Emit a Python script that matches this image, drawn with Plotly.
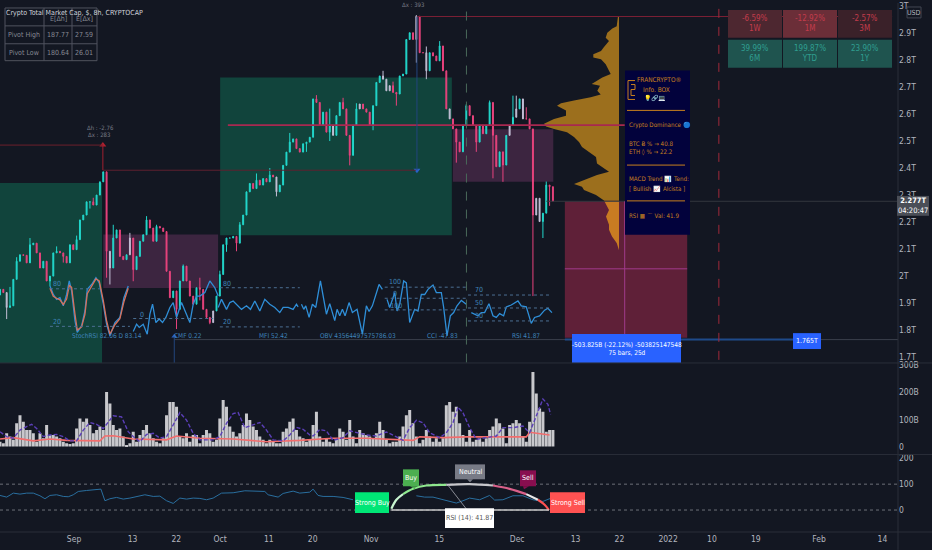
import pandas as pd
import plotly.graph_objects as go
from plotly.subplots import make_subplots

# chart geometry of the window
PLOT_W = 898
PLOT_H = 532
PANE_MAIN = 362
PANE_VOL = 92
PANE_RSI = 78

BG = "#131722"
FONT = "Liberation Sans Narrow, DejaVu Sans Condensed, sans-serif"
AXIS_TEXT = "#b2b5be"
UP = "#22d8cc"
DOWN = "#e8437d"
PALE = "#c4bfd6"
OSC = "#2f8fd8"
ORANGE = "#c8801e"

# 16.4h bars, closes in trillions
CLOSE = [1.951, 1.939, 1.884, 1.890, 1.988, 2.055, 2.079, 2.077, 2.049, 2.116, 2.122, 2.086, 2.030, 2.055, 1.982, 2.000,
         2.086, 2.092, 2.086, 2.073, 2.049, 2.116, 2.098, 2.135, 2.208, 2.226, 2.275, 2.275, 2.263, 2.300, 2.349, 2.386,
         2.092, 2.030, 2.141, 2.171, 2.073, 2.061, 2.079, 2.141, 2.024, 2.073, 2.129, 2.153, 2.208, 2.178, 2.129, 2.184,
         2.178, 2.165, 2.018, 1.920, 1.945, 1.877, 1.982, 2.037, 1.982, 1.926, 1.896, 1.957, 1.951, 1.877, 1.847, 1.828,
         1.871, 1.926, 2.006, 2.116, 2.141, 2.141, 2.147, 2.122, 2.190, 2.226, 2.312, 2.343, 2.324, 2.355, 2.337, 2.361,
         2.349, 2.374, 2.367, 2.312, 2.337, 2.410, 2.459, 2.496, 2.508, 2.472, 2.459, 2.490, 2.496, 2.514,
         2.656, 2.643, 2.558, 2.607, 2.533, 2.558, 2.521, 2.594, 2.643, 2.619, 2.521, 2.447, 2.558, 2.619, 2.637, 2.619,
         2.607, 2.558, 2.631, 2.717, 2.741, 2.729, 2.686, 2.705, 2.680, 2.674, 2.741, 2.748, 2.876, 2.901, 2.876, 2.962,
         2.827, 2.827, 2.760, 2.827, 2.815, 2.797, 2.852, 2.760, 2.619, 2.582, 2.545, 2.496, 2.460, 2.558, 2.631, 2.594,
         2.558, 2.496, 2.558, 2.527, 2.558, 2.643, 2.521, 2.405, 2.460, 2.411, 2.521, 2.558, 2.588, 2.619, 2.656, 2.582,
         2.582, 2.545, 2.226, 2.288, 2.202, 2.233, 2.337, 2.331, 2.277]
HIGH_WICK = {3: 1.96, 5: 2.07, 9: 2.141, 14: 2.04, 17: 2.11, 23: 2.15, 28: 2.29, 34: 2.19, 39: 2.16, 44: 2.222, 47: 2.19, 55: 2.043,
             60: 1.994, 66: 2.02, 72: 2.2, 77: 2.38, 81: 2.4, 87: 2.53, 95: 2.67, 99: 2.62, 103: 2.66, 107: 2.64, 115: 2.76,
             118: 2.72, 125: 2.966, 128: 2.85, 132: 2.87, 140: 2.637, 147: 2.65, 154: 2.668, 155: 2.668, 158: 2.625, 164: 2.35}
LOW_WICK = {2: 1.841, 9: 2.08, 15: 1.963, 19: 2.05, 27: 2.25, 32: 1.994, 33: 1.969, 40: 1.981, 53: 1.804, 60: 1.91, 63: 1.822,
            68: 2.09, 71: 2.092, 83: 2.295, 92: 2.46, 99: 2.5, 105: 2.41, 112: 2.54, 119: 2.631, 125: 2.79, 128: 2.729, 137: 2.42,
            143: 2.46, 148: 2.362, 151: 2.349, 160: 1.926, 163: 2.141, 165: 2.26}
PALE_BARS = [2, 33, 39, 64, 83, 100, 108, 115, 116, 117, 125, 128, 135, 153, 155, 157, 161, 162]

VOLUME = [18, 12, 49, 37, 25, 86, 116, 92, 61, 61, 49, 18, 49, 31, 80, 43, 43, 37, 31, 18, 12, 10, 12, 67, 104, 92, 104, 80, 49,
          61, 74, 61, 202, 159, 80, 61, 67, 37, 6, 12, 55, 18, 43, 61, 80, 49, 31, 18, 12, 31, 116, 165, 165, 147, 37, 31, 49,
          18, 43, 43, 12, 43, 61, 49, 18, 25, 104, 172, 147, 74, 55, 37, 49, 80, 122, 98, 74, 61, 37, 25, 12, 25, 18, 12, 12,
          55, 67, 92, 104, 61, 37, 31, 18, 25,
          80, 129, 37, 18, 31, 18, 12, 31, 67, 55, 25, 98, 37, 12, 61, 49, 43, 37, 31, 49, 92, 61, 25, 12, 18, 18, 37, 74,
          116, 135, 86, 37, 12, 25, 61, 37, 18, 31, 18, 31, 153, 165, 129, 147, 86, 43, 18, 61, 18, 25, 31, 18, 31, 61, 74,
          104, 86, 67, 12, 80, 86, 98, 86, 37, 18, 92, 276, 196, 141, 129, 55, 61, 61]

VOL_SMA_BARS = [0, 2, 4, 6, 8, 9.5, 11, 13, 15, 17, 19, 21, 23, 25, 27, 29, 31, 33, 34, 36.5, 38.5, 40, 42, 44, 46, 48, 50, 52,
                54, 56, 58, 60, 64, 66, 68, 70, 71.5, 73.5, 76, 78, 80, 82, 85, 87, 89, 91, 93,
                94, 96, 98, 100, 103, 105, 107, 110, 113, 116, 119, 121, 123, 125, 127, 129, 132, 134, 136, 137.5, 139, 141,
                143, 146, 149, 151, 154, 157, 159, 161, 163, 164.5, 165.3]
VOL_SMA = [55, 37, 31, 61, 74, 82, 67, 37, 43, 45, 37, 21, 21, 61, 89, 82, 67, 98, 114, 110, 55, 37, 18, 45, 49, 31, 37, 80,
           126, 98, 49, 25, 25, 37, 86, 122, 126, 70, 82, 89, 61, 25, 21, 43, 71, 64, 43,
           39, 63, 58, 23, 33, 58, 51, 43, 39, 54, 36, 23, 70, 97, 88, 51, 33, 51, 88, 146, 125, 70,
           27, 33, 39, 70, 70, 76, 51, 113, 176, 156, 119]
VOL_LONG_BARS = [0, 4, 10, 15, 20, 30, 31.5, 34, 40, 50, 53, 60, 70, 80, 90, 100, 110, 124, 126, 133, 140, 150, 158, 159, 165]
VOL_LONG = [28, 33, 21, 28, 23, 21, 39, 40, 28, 25, 39, 31, 28, 18, 23, 31, 31, 23, 36, 33, 36, 37, 36, 53, 43]

RSI_BARS = [0, 2, 4, 6, 8, 10, 12, 13.5, 15, 17, 19, 20.5, 22, 23.5, 26, 28, 30.3, 31.5, 33, 35, 37, 39, 41, 43.5, 46, 48, 50,
            52, 54, 56, 58, 60, 62, 64, 66.5, 70, 73.5, 77, 79.5, 80.5, 83.5, 85, 88, 90, 93, 94, 95.5, 97, 100, 103, 106,
            115, 125, 127.5, 130, 133, 137, 139, 141, 144, 147, 148.5, 151, 154, 157, 160, 163, 165.5]
RSI_VALUES = [56.4, 50, 65.4, 61.5, 65.4, 65.4, 55.1, 43.6, 56.4, 59, 52.6, 51.3, 59, 71.8, 75.6, 78.2, 80.8, 35.9, 43.6, 48.7,
              42.3, 46.2, 51.3, 59, 52.6, 53.8, 35.9, 25.6, 46.2, 42.3, 46.2, 44.9, 39.7, 46.2, 65.4, 66.7, 74.4, 74.4, 71.8,
              59, 50, 64.1, 73.1, 65.4, 69.2, 80.8, 56.4, 52.6, 52.6, 48.7, 39.7,
              None, 55.1, 50, 50, 39.7, 26.9, 35.9, 46.2, 39.7, 56.4, 38.5, 39.7, 55.1, 55.1, 39.7, 33.3, 46.2]

# rsi gauge arc, in bars and rsi levels
GAUGE_BARS = [117.5, 119, 121, 124, 128, 134, 141, 148, 153, 158, 161.5, 163.5, 164.8]
GAUGE_LEVELS = [5, 39.7, 61.5, 82, 94.9, 97.4, 100, 94.9, 82, 61.5, 39.7, 20.5, 0]

# oscillators printed on the price pane
STOCH_BARS = [15, 16, 17, 18, 19, 20, 20.8, 21.5, 22.5, 23.2, 24.5, 25.5, 26.2, 27.5, 28.8, 29.8, 31, 32, 33, 34.5, 36, 37.2, 38.5]
STOCH_K = [1.963, 1.932, 1.914, 1.920, 1.890, 1.932, 1.982, 1.945, 1.835, 1.792, 1.816, 1.871, 1.951, 1.969, 1.994, 1.975, 1.896,
           1.822, 1.779, 1.828, 1.847, 1.920, 1.963]
STOCH_D = [1.955, 1.925, 1.918, 1.912, 1.895, 1.915, 1.965, 1.958, 1.860, 1.800, 1.812, 1.858, 1.935, 1.962, 1.990, 1.982, 1.910,
           1.835, 1.785, 1.820, 1.842, 1.905, 1.955]
CMF_BARS = [40, 41, 41.8, 43, 44.2, 45, 45.8, 46.8, 47.8, 48.8, 49.8, 51, 52, 53, 54.5, 56, 57, 58, 59, 60, 61.5, 63, 64.5, 65.5]
CMF = [1.795, 1.822, 1.810, 1.822, 1.785, 1.859, 1.896, 1.828, 1.841, 1.828, 1.847, 1.884, 1.902, 1.847, 1.902, 1.859, 1.828,
       1.896, 1.926, 1.926, 1.939, 1.982, 1.957, 1.926]
MFI_BARS = [65.5, 66.5, 68, 69, 70, 71.5, 72.5, 74, 75.2, 76.5, 78, 79.5, 81, 82.5, 84, 85, 86.5, 88, 89, 89.5]
MFI = [1.884, 1.914, 1.877, 1.902, 1.908, 1.890, 1.877, 1.890, 1.877, 1.908, 1.871, 1.914, 1.896, 1.884, 1.865, 1.884, 1.884,
       1.877, 1.896, 1.886]
OBV_BARS = [90.5, 91.2, 91.8, 92.8, 93.8, 94.8, 96.2, 98, 99, 100.5, 101.2, 102, 102.8, 103.6, 104.8, 105.8, 107.2, 108.8, 110,
            110.8, 111.8, 112.8, 113.8, 114.8]
OBV = [1.896, 1.877, 1.890, 1.847, 1.896, 1.884, 1.982, 1.859, 1.898, 1.835, 1.877, 1.853, 1.877, 1.853, 1.902, 1.865, 1.877,
       1.785, 1.890, 1.869, 1.890, 1.926, 1.969, 1.951]
CCI_BARS = [116.2, 117, 118, 118.5, 119.2, 120, 121.2, 122, 123, 124.5, 125.5, 126.5, 127.5, 128.5, 130, 131, 132.5, 133.2, 134.2,
            135.2, 136.2, 137.2, 138.5, 140]
CCI = [1.914, 1.884, 1.920, 1.939, 1.871, 1.896, 1.982, 1.975, 1.828, 1.877, 1.871, 1.932, 1.932, 1.951, 1.967, 1.939, 1.939,
       1.884, 1.779, 1.853, 1.865, 1.890, 1.910, 1.896]
RSI_OVER_BARS = [141.5, 142.5, 143.5, 144.5, 145.5, 146.8, 148, 149, 150, 151.2, 152, 153.5, 155.5, 156.5, 158, 159.5, 160.5, 162,
                 163.5, 164.5, 165.7]
RSI_OVER = [1.865, 1.859, 1.853, 1.865, 1.865, 1.898, 1.853, 1.847, 1.861, 1.853, 1.886, 1.893, 1.908, 1.890, 1.886, 1.825, 1.847,
            1.853, 1.874, 1.881, 1.865]

# (first bar, last bar, price, label, label bar, label price)
OSC_LEVELS = [(15, 30, 1.953, "80", 17, 1.969), (15, 39, 1.814, "20", 17, 1.830), (40, 64, 1.843, "0", 42.5, 1.855),
              (66, 90, 1.957, "80", 68, 1.972), (66, 90, 1.812, "20", 68, 1.830), (115.5, 140, 1.959, "100", 118.5, 1.978),
              (115.5, 140, 1.918, "0", 118.5, 1.932), (115.5, 140, 1.875, "-100", 118.5, 1.890),
              (140.5, 165.7, 1.930, "70", 143.8, 1.947), (140.5, 165.7, 1.882, "50", 143.8, 1.899),
              (140.5, 165.7, 1.834, "30", 143.8, 1.853)]
OSC_NAMES = [("StochRSI 82.06 D 83.14", 32), ("CMF 0.22", 56.5), ("MFI 52.42", 82), ("OBV 43564497575786.03", 107.5),
             ("CCI -47.83", 132.7), ("RSI 41.87", 158)]

# (start, end, top, bottom, colour)
ZONES = [("2021-08-16 19:00", "2021-09-06 18:00", 2.345, 1.60, "#11443c"),
         ("2021-10-01 00:00", "2021-11-17 14:00", 2.735, 2.151, "#11443c"),
         ("2021-09-07 00:00", "2021-09-30 14:00", 2.154, 1.956, "#3c2540"),
         ("2021-11-17 19:00", "2021-12-08 10:00", 2.544, 2.349, "#3c2540"),
         ("2021-12-10 19:00", "2022-01-04 22:00", 2.277, 1.772, "#5f2038")]
# (start, end, price, colour, width)
LEVEL_LINES = [("2021-11-10 10:00", "2022-02-16 00:00", 2.961, "#7a1f34", 1),
               ("2021-10-02 14:00", "2021-12-23 02:00", 2.559, "#a82850", 1.6),
               ("2021-08-16 19:00", "2021-09-06 22:00", 2.485, "#6b1f2c", 1),
               ("2021-09-07 00:00", "2021-11-10 05:00", 2.392, "#5f2030", 1),
               ("2021-09-21 14:00", "2022-02-18 04:00", 1.765, "#3a3f4b", 1),
               ("2021-12-10 19:00", "2022-01-28 00:00", 1.765, "#1e4a8a", 2),
               ("2021-12-07 00:00", "2022-02-18 04:00", 2.277, "#33373f", 1),
               ("2021-12-10 19:00", "2022-01-04 22:00", 2.027, "#a03a8c", 1)]

# volume profile right of the candles, above and below the last close
PROFILE_TOP_PRICE = [2.962, 2.925, 2.917, 2.901, 2.882, 2.870, 2.848, 2.833, 2.821, 2.809, 2.803, 2.784, 2.760, 2.748, 2.735, 2.721,
                     2.711, 2.705, 2.686, 2.672, 2.662, 2.650, 2.640, 2.631, 2.613, 2.594, 2.582, 2.564, 2.554, 2.545, 2.533,
                     2.515, 2.496, 2.478, 2.460, 2.441, 2.417, 2.398, 2.386, 2.374, 2.355, 2.341, 2.331, 2.319, 2.300, 2.280]
PROFILE_TOP = [1, 2.3, 6.7, 11.7, 13.3, 10, 15, 18, 25.7, 25.7, 18, 13.3, 10, 8.3, 16.7, 23.3, 27.3, 19, 21.7, 18.3, 28.3, 45, 58, 62,
               53, 53, 65, 75, 73, 65, 52, 45, 40, 37, 30, 23, 22, 15, 10, 22, 35, 45, 37, 35, 23, 15]
PROFILE_LOW_PRICE = [2.280, 2.267, 2.245, 2.221, 2.190, 2.172, 2.147, 2.123, 2.096]
PROFILE_LOW = [15, 13, 10, 13, 10, 10, 7, 2.3, 0]

MAIN_TICKS = [1.7, 1.8, 1.9, 2.0, 2.1, 2.2, 2.3, 2.4, 2.5, 2.6, 2.7, 2.8, 2.9, 3.0]
MAIN_LABELS = ["1.7T", "1.8T", "1.9T", "2T", "2.1T", "2.2T", "2.3T", "2.4T", "2.5T", "2.6T", "2.7T", "2.8T", "2.9T", "3T"]
VOL_TICKS = [0, 100, 200, 300]
VOL_LABELS = ["0", "100B", "200B", "300B"]
RSI_TICKS = [0, 100, 200]
DATE_TICKS = ["2021-09-01", "2021-09-13", "2021-09-22", "2021-10-01", "2021-10-11", "2021-10-20", "2021-11-01", "2021-11-15",
              "2021-12-01", "2021-12-13", "2021-12-22", "2022-01-01", "2022-01-10", "2022-01-19", "2022-02-01", "2022-02-14"]
DATE_LABELS = ["Sep", "13", "22", "Oct", "11", "20", "Nov", "15", "Dec", "13", "22", "2022", "10", "19", "Feb", "14"]

PERF_VALUES = ["-6.59%", "-12.92%", "-2.57%", "39.99%", "199.87%", "23.90%"]
PERF_PERIODS = ["1W", "1M", "3M", "6M", "YTD", "1Y"]
PERF_FILLS = ["#4d2730", "#6b2e38", "#3a2129", "#1f544f", "#1f544f", "#1f544f"]

PIVOT_HEAD = ["", "E[Δh]", "E[Δx]"]
PIVOT_HIGH = ["Pivot High", "187.77", "27.59"]
PIVOT_LOW = ["Pivot Low", "180.64", "26.01"]

X_START = "2021-08-16 19:00"
X_END = "2022-02-17 05:00"
T0 = pd.Timestamp(X_START)
STEP = pd.Timedelta(minutes=985)


def bar_date(i):
    return T0 + i * STEP


def px(x):
    return x / PLOT_W


def py(y):
    return 1 - y / PLOT_H


def note(fig, x, y, text, color=AXIS_TEXT, size=10, anchor="center"):
    fig.add_annotation(x=px(x), y=py(y), xref="paper", yref="paper", text=text, showarrow=False, xanchor=anchor,
                       yanchor="middle", font=dict(color=color, size=size, family=FONT))


def tag(fig, x0, y0, x1, y1, text, fill, color="white", size=10, tail=None):
    fig.add_shape(type="rect", xref="paper", yref="paper", x0=px(x0), x1=px(x1), y0=py(y0), y1=py(y1), fillcolor=fill,
                  line_width=0, layer="above")
    if tail:
        mid = (x0 + x1) / 2 + tail[0]
        corners = [(mid - 3, y1), (mid + 3, y1), (mid + tail[0], y1 + tail[1])]
        path = "M " + " L ".join(f"{px(a)} {py(b)}" for a, b in corners) + " Z"
        fig.add_shape(type="path", xref="paper", yref="paper", path=path, fillcolor=fill, line_width=0, layer="above")
    note(fig, (x0 + x1) / 2, (y0 + y1) / 2, text, color, size)


def paper_line(fig, x0, y0, x1, y1, color, width=1):
    fig.add_shape(type="line", xref="paper", yref="paper", x0=px(x0), x1=px(x1), y0=py(y0), y1=py(y1),
                  line=dict(color=color, width=width), layer="above")


def main():
    dates = [bar_date(i) for i in range(len(CLOSE))]
    opens = [1.930] + CLOSE[:-1]
    highs = [HIGH_WICK.get(i, max(opens[i], CLOSE[i])) for i in range(len(CLOSE))]
    lows = [LOW_WICK.get(i, min(opens[i], CLOSE[i])) for i in range(len(CLOSE))]

    fig = make_subplots(rows=3, cols=1, shared_xaxes=True, vertical_spacing=0,
                        row_heights=[PANE_MAIN, PANE_VOL, PANE_RSI])

    plain = [i for i in range(len(CLOSE)) if i not in PALE_BARS]
    for bars, up, down in ((plain, UP, DOWN), (PALE_BARS, PALE, PALE)):
        fig.add_trace(go.Candlestick(
            x=[dates[i] for i in bars], open=[opens[i] for i in bars], high=[highs[i] for i in bars],
            low=[lows[i] for i in bars], close=[CLOSE[i] for i in bars], whiskerwidth=0,
            increasing=dict(line=dict(color=up, width=1), fillcolor=up),
            decreasing=dict(line=dict(color=down, width=1), fillcolor=down)), row=1, col=1)

    for bars, vals, color in ((STOCH_BARS, STOCH_K, OSC), (STOCH_BARS, STOCH_D, "#d8705a"), (CMF_BARS, CMF, OSC),
                              (MFI_BARS, MFI, OSC), (OBV_BARS, OBV, OSC), (CCI_BARS, CCI, OSC),
                              (RSI_OVER_BARS, RSI_OVER, OSC)):
        fig.add_trace(go.Scatter(x=[bar_date(b) for b in bars], y=vals, mode="lines",
                                 line=dict(color=color, width=1.3)), row=1, col=1)

    # arrow heads of the pivot drawings
    fig.add_trace(go.Scatter(x=["2021-09-06 22:00"], y=[2.485], mode="markers",
                             marker=dict(symbol="triangle-up", size=6, color="#b0202f")), row=1, col=1)
    fig.add_trace(go.Scatter(x=["2021-11-10 10:00"], y=[2.392], mode="markers",
                             marker=dict(symbol="triangle-down", size=6, color="#2a62c8")), row=1, col=1)
    fig.add_trace(go.Scatter(x=["2021-09-21 14:00"], y=[1.777], mode="markers",
                             marker=dict(symbol="triangle-up", size=5, color="#2a62c8")), row=1, col=1)

    fig.add_trace(go.Bar(x=dates, y=VOLUME, marker=dict(color="#c8c8cc", line_width=0)), row=2, col=1)
    fig.add_trace(go.Scatter(x=[bar_date(b) for b in VOL_LONG_BARS], y=VOL_LONG, mode="lines",
                             line=dict(color="#f26d6d", width=1.6)), row=2, col=1)
    fig.add_trace(go.Scatter(x=[bar_date(b) for b in VOL_SMA_BARS], y=VOL_SMA, mode="lines",
                             line=dict(color="#5b3fb8", width=1.4, dash="4px,2px")), row=2, col=1)

    fig.add_trace(go.Scatter(x=[bar_date(b) for b in RSI_BARS], y=RSI_VALUES, mode="lines",
                             line=dict(color="#2a6f9f", width=1)), row=3, col=1)
    # gauge arc, split by zone colour
    for first, last, color in ((0, 3, "#c8f5d0"), (2, 6, "#8fe88f"), (5, 8, "#c8c8cc"), (7, 10, "#d9608a"),
                               (9, 11, "#e8e8e8"), (10, 13, "#ff5252")):
        fig.add_trace(go.Scatter(x=[bar_date(b) for b in GAUGE_BARS[first:last]], y=GAUGE_LEVELS[first:last], mode="lines",
                                 line=dict(color=color, width=2.2, shape="spline")), row=3, col=1)
    fig.add_trace(go.Scatter(x=[bar_date(GAUGE_BARS[0]), bar_date(GAUGE_BARS[-1])], y=[0, 0], mode="lines",
                             line=dict(color="#c8c8c8", width=1.6)), row=3, col=1)

    # volume profile has its own axis, growing to the left
    for vals, prices, color in ((PROFILE_TOP, PROFILE_TOP_PRICE, "#9c6f1d"), (PROFILE_LOW, PROFILE_LOW_PRICE, "#c97b22")):
        fig.add_trace(go.Scatter(x=vals, y=prices, mode="lines", fill="tozerox", xaxis="x4", yaxis="y",
                                 line=dict(color=color, width=0), fillcolor=color))

    for start, end, top, bottom, color in ZONES:
        fig.add_shape(type="rect", xref="x", yref="y", x0=start, x1=end, y0=bottom, y1=top, fillcolor=color,
                      line_width=0, layer="below")
    for start, end, price, color, width in LEVEL_LINES:
        fig.add_shape(type="line", xref="x", yref="y", x0=start, x1=end, y0=price, y1=price,
                      line=dict(color=color, width=width), layer="above")

    # vertical drawings
    for when, low, high, color, dash in (("2021-11-20 14:00", 1.68, 3.1, "#4a6a5a", "dash"),
                                         ("2022-01-11 10:00", 1.69, 3.1, "#a02a3a", "dash"),
                                         ("2021-09-06 22:00", 2.392, 2.485, "#a02030", "solid"),
                                         ("2021-11-10 10:00", 2.392, 2.961, "#23457e", "solid"),
                                         ("2021-09-21 14:00", 1.65, 1.777, "#23457e", "solid"),
                                         ("2021-12-23 02:00", 1.772, 2.277, "#a03a8c", "solid")):
        fig.add_shape(type="line", xref="x", yref="y", x0=when, x1=when, y0=low, y1=high,
                      line=dict(color=color, width=1, dash=dash))

    for first, last, price, label, label_bar, label_price in OSC_LEVELS:
        fig.add_shape(type="line", xref="x", yref="y", x0=bar_date(first), x1=bar_date(last), y0=price, y1=price,
                      line=dict(color="#4c6f93", width=1, dash="3px,3px"))
        fig.add_annotation(x=bar_date(label_bar), y=label_price, xref="x", yref="y", text=label, showarrow=False,
                           font=dict(color="#3f83b8", size=7, family=FONT))
    for name, bar in OSC_NAMES:
        fig.add_annotation(x=bar_date(bar), y=1.779, xref="x", yref="y", text=name, showarrow=False,
                           font=dict(color="#3f83b8", size=6.5, family=FONT))

    for level in (0, 100):
        fig.add_shape(type="line", xref="x3", yref="y3", x0=X_START, x1=X_END, y0=level, y1=level,
                      line=dict(color="#6d7079", width=1, dash="3px,3px"), layer="below")

    # gauge labels
    paper_line(fig, 448, 485, 468, 511, "#8a8d96")
    tag(fig, 355, 492, 389, 513, "Strong Buy", "#00e676", size=7)
    tag(fig, 403, 469, 419, 486, "Buy", "#4caf50", size=7, tail=(2, 3))
    tag(fig, 455, 464, 485, 479, "Neutral", "#787b86", size=7, tail=(0, 3))
    tag(fig, 520, 470, 536, 486, "Sell", "#880e4f", size=7, tail=(-2, 3))
    tag(fig, 550, 492, 585, 513, "Strong Sell", "#ff5252", size=7)
    tag(fig, 445, 508, 494, 528, "RSI (14): 41.87", "#ffffff", color="#555555", size=7)

    # drawing labels
    tag(fig, 572, 333, 681, 362, "-503.825B (-22.12%) -503825147548<br>75 bars, 25d", "#2962ff", size=6.5)
    tag(fig, 793, 332, 821, 348, "1.765T", "#2962ff", size=7)
    note(fig, 100, 125, "Δh : -2.76", "#787b86", 6)
    note(fig, 99, 132, "Δx : 283", "#787b86", 6)
    note(fig, 413, 2, "Δx : 393", "#787b86", 6)

    # info box
    fig.add_shape(type="rect", xref="paper", yref="paper", x0=px(625), x1=px(690), y0=py(68), y1=py(233), fillcolor="#02023c",
                  line_width=0, layer="above")
    note(fig, 659, 77, "FRANCRYPTO®", ORANGE, 6.5)
    note(fig, 656, 87, "Info. BOX", ORANGE, 6.5)
    note(fig, 655, 96, "💡🔗💻", ORANGE, 6)
    for y in (108, 163, 199):
        paper_line(fig, 627, y, 685, y, ORANGE)
    for x0, y0, x1, y1 in ((635, 78, 628, 78), (628, 78, 628, 97), (628, 97, 635, 97), (631, 82, 635, 82), (635, 82, 635, 87),
                           (635, 87, 631, 87), (631, 87, 631, 93), (631, 93, 635, 93)):
        paper_line(fig, x0, y0, x1, y1, ORANGE)
    for y, text in ((123, "Crypto Dominance 🔵"), (141, "BTC Ƀ % → 40.8"), (150, "ETH ◊ % → 22.2"), (177, "MACD Trend 📊 Tend:"),
                    (187, "[ Bullish 📈 Alcista ]"), (214, "RSI ▦ ⌒ Val: 41.9")):
        note(fig, 627, y, text, ORANGE, 6.2, "left")

    # pivot table, top left
    for x in (5, 44, 72, 97):
        paper_line(fig, x, 5, x, 58, "#50535e")
    for y in (5, 23, 41, 58):
        paper_line(fig, 5, y, 97, y, "#50535e")
    for y, row in ((16, PIVOT_HEAD), (32, PIVOT_HIGH), (50, PIVOT_LOW)):
        for x, cell in zip((24, 58, 84), row):
            note(fig, x, y, cell, "#868993", 7)
    note(fig, 4, 10, "Crypto Total Market Cap, $, 8h, CRYPTOCAP", "#d1d4dc", 7, "left")

    # performance table, top right
    for n, (value, period, fill) in enumerate(zip(PERF_VALUES, PERF_PERIODS, PERF_FILLS)):
        x0 = 728 + 55 * (n % 3)
        y0 = 7 + 30 * (n // 3)
        text = "#c23c4c" if n < 3 else "#2f9e90"
        tag(fig, x0, y0, x0 + 54, y0 + 28, f"{value}<br>{period}", fill, color=text, size=8)

    # price axis decorations
    paper_line(fig, 898, 0, 898, 550, "#2a2e39")
    paper_line(fig, 0, 362, 932, 362, "#2a2e39")
    paper_line(fig, 0, 454, 932, 454, "#2a2e39")
    paper_line(fig, 0, 532, 932, 532, "#2a2e39")
    tag(fig, 897, 194, 929, 214, "<b>2.277T</b><br>04:20:47", "#4a4e57", size=7.5)
    fig.add_shape(type="rect", xref="paper", yref="paper", x0=px(907), x1=px(921), y0=py(4), y1=py(15), fillcolor=BG,
                  line=dict(color="#434651", width=1), layer="above")
    note(fig, 914, 10, "USD", AXIS_TEXT, 7)

    axis_font = dict(color=AXIS_TEXT, size=8.5, family=FONT)
    fig.update_xaxes(rangeslider_visible=False, range=[X_START, X_END], showgrid=False, zeroline=False, showline=False,
                     tickvals=DATE_TICKS, ticktext=DATE_LABELS, tickfont=axis_font, ticks="", tickangle=0)
    fig.update_yaxes(side="right", showgrid=False, zeroline=False, showline=False, tickfont=axis_font, ticks="")
    fig.update_yaxes(row=1, col=1, range=[1.6785, 3.011], tickvals=MAIN_TICKS, ticktext=MAIN_LABELS)
    fig.update_yaxes(row=2, col=1, range=[-29, 309], tickvals=VOL_TICKS, ticktext=VOL_LABELS)
    fig.update_yaxes(row=3, col=1, range=[-85, 215], tickvals=RSI_TICKS)

    fig.update_layout(
        width=932, height=550, showlegend=False, paper_bgcolor=BG, plot_bgcolor=BG, bargap=0.1, boxgap=0.6,
        margin=dict(l=0, r=34, t=0, b=18),
        font=dict(family=FONT),
        xaxis4=dict(overlaying="x", anchor="y", range=[619, -279], visible=False, showgrid=False, zeroline=False),
    )

    fig.write_html("out.html", config=dict(displayModeBar=False),
                   post_script="document.body.style.margin='0';document.body.style.background='#131722';")


if __name__ == '__main__':
    main()
